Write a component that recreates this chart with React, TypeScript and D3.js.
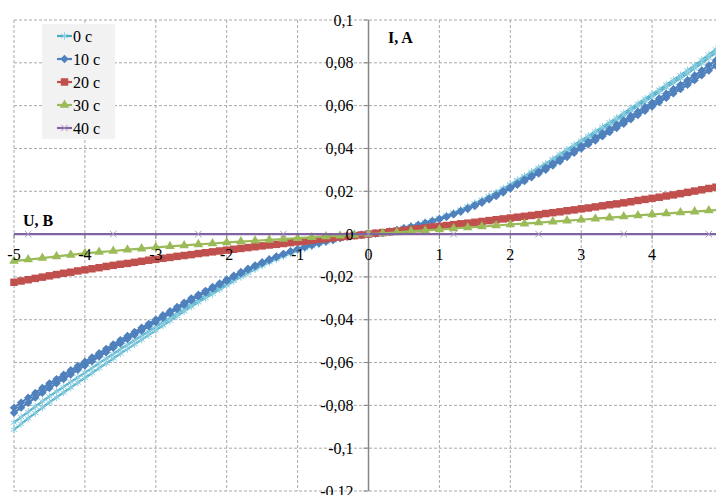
import React from "react";
import * as d3 from "d3";

const W = 716, H = 495;

// sweep voltages, V (step 0.1)
const uFine = [
  -5, -4.9, -4.8, -4.7, -4.6, -4.5, -4.4, -4.3, -4.2, -4.1,
  -4, -3.9, -3.8, -3.7, -3.6, -3.5, -3.4, -3.3, -3.2, -3.1,
  -3, -2.9, -2.8, -2.7, -2.6, -2.5, -2.4, -2.3, -2.2, -2.1,
  -2, -1.9, -1.8, -1.7, -1.6, -1.5, -1.4, -1.3, -1.2, -1.1,
  -1, -0.9, -0.8, -0.7, -0.6, -0.5, -0.4, -0.3, -0.2, -0.1,
  0, 0.1, 0.2, 0.3, 0.4, 0.5, 0.6, 0.7, 0.8, 0.9,
  1, 1.1, 1.2, 1.3, 1.4, 1.5, 1.6, 1.7, 1.8, 1.9,
  2, 2.1, 2.2, 2.3, 2.4, 2.5, 2.6, 2.7, 2.8, 2.9,
  3, 3.1, 3.2, 3.3, 3.4, 3.5, 3.6, 3.7, 3.8, 3.9,
  4, 4.1, 4.2, 4.3, 4.4, 4.5, 4.6, 4.7, 4.8, 4.9, 5,
];

// step 0.2 for the 30 c curve
const uCoarse = [
  -5, -4.8, -4.6, -4.4, -4.2, -4, -3.8, -3.6, -3.4, -3.2,
  -3, -2.8, -2.6, -2.4, -2.2, -2, -1.8, -1.6, -1.4, -1.2,
  -1, -0.8, -0.6, -0.4, -0.2,
  0, 0.2, 0.4, 0.6, 0.8, 1, 1.2, 1.4, 1.6, 1.8,
  2, 2.2, 2.4, 2.6, 2.8, 3, 3.2, 3.4, 3.6, 3.8,
  4, 4.2, 4.4, 4.6, 4.8, 5,
];

// 40 c points (ends have no marker)
const u40 = [-5, -4.8, -3.6, -2.4, -1.2, 0, 1.2, 2.4, 3.6, 4.8, 5];

// currents in mA
const i0Up = [
  -88.1, -85.5, -83.0, -80.6, -78.1, -75.8, -73.5, -71.4, -69.1, -66.9,
  -64.7, -62.6, -60.3, -58.2, -56.0, -53.8, -51.7, -49.6, -47.5, -45.5,
  -43.3, -41.2, -39.1, -36.9, -34.8, -32.6, -30.7, -28.8, -26.9, -24.9,
  -23.0, -21.1, -19.3, -17.5, -15.8, -14.2, -12.7, -11.3, -10.0, -8.7,
  -7.5, -6.4, -5.5, -4.5, -3.6, -2.9, -1.9, -1.2, -0.6, -0.3,
  0, 0.3, 0.6, 1.2, 1.9, 2.9, 3.7, 4.5, 5.5, 6.5,
  7.6, 8.7, 10.0, 11.4, 12.9, 14.4, 16.0, 17.7, 19.4, 21.3,
  23.2, 25.2, 27.1, 29.1, 31.0, 32.9, 35.1, 37.3, 39.4, 41.6,
  43.7, 45.9, 48.0, 50.1, 52.2, 54.3, 56.5, 58.8, 60.9, 63.2,
  65.3, 67.5, 69.8, 72.0, 74.2, 76.5, 78.8, 81.3, 83.8, 86.3, 88.9,
];
const i0Down = [
  -91.4, -88.7, -86.1, -83.6, -81.0, -78.6, -76.3, -74.0, -71.7, -69.4,
  -67.2, -64.9, -62.6, -60.4, -58.1, -55.8, -53.6, -51.5, -49.3, -47.2,
  -45.0, -42.7, -40.5, -38.3, -36.1, -33.9, -31.9, -29.9, -27.9, -25.9,
  -23.9, -21.9, -20.0, -18.2, -16.4, -14.8, -13.2, -11.8, -10.3, -9.0,
  -7.8, -6.7, -5.7, -4.7, -3.8, -3.0, -2.0, -1.2, -0.7, -0.3,
  0, 0.3, 0.6, 1.2, 1.9, 2.9, 3.6, 4.5, 5.4, 6.4,
  7.4, 8.6, 9.9, 11.2, 12.6, 14.1, 15.7, 17.4, 19.1, 20.9,
  22.8, 24.7, 26.6, 28.5, 30.4, 32.3, 34.5, 36.6, 38.7, 40.8,
  42.9, 45.1, 47.1, 49.2, 51.2, 53.3, 55.4, 57.7, 59.8, 62.0,
  64.1, 66.3, 68.5, 70.7, 72.8, 75.0, 77.4, 79.8, 82.3, 84.7, 87.2,
];
const i10Up = [
  -81.1, -78.7, -76.4, -74.2, -71.9, -69.7, -67.7, -65.7, -63.6, -61.6,
  -59.6, -57.6, -55.6, -53.6, -51.5, -49.5, -47.6, -45.7, -43.7, -41.9,
  -39.9, -37.9, -36.0, -34.0, -32.0, -30.0, -28.3, -26.5, -24.7, -23.0,
  -21.2, -19.4, -17.7, -16.2, -14.6, -13.1, -11.7, -10.4, -9.2, -8.0,
  -6.9, -5.9, -5.0, -4.1, -3.3, -2.7, -1.8, -1.1, -0.6, -0.3,
  0, 0.3, 0.6, 1.1, 1.8, 2.7, 3.5, 4.3, 5.2, 6.1,
  7.1, 8.2, 9.4, 10.8, 12.1, 13.5, 15.0, 16.6, 18.3, 20.0,
  21.8, 23.6, 25.5, 27.3, 29.1, 31.0, 33.0, 35.0, 37.0, 39.1,
  41.1, 43.1, 45.1, 47.1, 49.0, 51.1, 53.1, 55.2, 57.2, 59.4,
  61.4, 63.4, 65.6, 67.7, 69.7, 71.9, 74.1, 76.4, 78.8, 81.1, 83.5,
];
const i10Down = [
  -83.5, -81.1, -78.8, -76.4, -74.1, -71.9, -69.7, -67.7, -65.6, -63.4,
  -61.4, -59.4, -57.2, -55.2, -53.1, -51.1, -49.0, -47.1, -45.1, -43.1,
  -41.1, -39.1, -37.0, -35.0, -33.0, -31.0, -29.1, -27.3, -25.5, -23.6,
  -21.8, -20.0, -18.3, -16.6, -15.0, -13.5, -12.1, -10.8, -9.4, -8.2,
  -7.1, -6.1, -5.2, -4.3, -3.5, -2.7, -1.8, -1.1, -0.6, -0.3,
  0, 0.3, 0.6, 1.1, 1.8, 2.7, 3.3, 4.1, 5.0, 5.9,
  6.9, 8.0, 9.2, 10.4, 11.7, 13.1, 14.6, 16.2, 17.7, 19.4,
  21.2, 23.0, 24.7, 26.5, 28.3, 30.0, 32.0, 34.0, 36.0, 37.9,
  39.9, 41.9, 43.7, 45.7, 47.6, 49.5, 51.5, 53.6, 55.6, 57.6,
  59.6, 61.6, 63.6, 65.7, 67.7, 69.7, 71.9, 74.2, 76.4, 78.7, 81.1,
];
const i20 = [
  -22.5, -21.9, -21.3, -20.7, -20.1, -19.5, -18.9, -18.3, -17.8, -17.2,
  -16.7, -16.2, -15.7, -15.1, -14.6, -14.1, -13.7, -13.2, -12.7, -12.2,
  -11.8, -11.3, -10.9, -10.4, -10.0, -9.6, -9.1, -8.7, -8.3, -7.9,
  -7.5, -7.1, -6.7, -6.3, -5.9, -5.5, -5.1, -4.8, -4.4, -4.0,
  -3.6, -3.3, -2.9, -2.5, -2.2, -1.8, -1.4, -1.1, -0.7, -0.4,
  0, 0.4, 0.7, 1.1, 1.4, 1.8, 2.2, 2.5, 2.9, 3.3,
  3.6, 4.0, 4.4, 4.8, 5.1, 5.5, 5.9, 6.3, 6.7, 7.1,
  7.5, 7.9, 8.3, 8.7, 9.1, 9.6, 10.0, 10.4, 10.9, 11.3,
  11.8, 12.2, 12.7, 13.2, 13.7, 14.1, 14.6, 15.1, 15.7, 16.2,
  16.7, 17.2, 17.8, 18.3, 18.9, 19.5, 20.1, 20.7, 21.3, 21.9, 22.5,
];
const i30 = [
  -12.6, -11.9, -11.2, -10.4, -9.7, -9.0, -8.4, -7.9, -7.3, -6.8,
  -6.2, -5.7, -5.3, -4.8, -4.4, -3.9, -3.5, -3.1, -2.7, -2.3,
  -1.9, -1.5, -1.1, -0.8, -0.4,
  0, 0.4, 0.8, 1.3, 1.7, 2.1, 2.6, 3.1, 3.5, 4.0,
  4.5, 4.9, 5.4, 5.8, 6.3, 6.7, 7.2, 7.7, 8.2, 8.7,
  9.2, 9.6, 10.1, 10.5, 11.0, 11.4,
];
const i40 = [0, 0, 0, 0, 0, 0, 0, 0, 0, 0, 0];

const xTicks = [-5, -4, -3, -2, -1, 0, 1, 2, 3, 4, 5];
const xLabels = [-5, -4, -3, -2, -1, 0, 1, 2, 3, 4];
const yTicks = [-0.12, -0.1, -0.08, -0.06, -0.04, -0.02, 0, 0.02, 0.04, 0.06, 0.08, 0.1];
const legendNames = ["0 c", "10 c", "20 c", "30 c", "40 c"];

const FONT = "'Liberation Serif', 'Times New Roman', serif";

// sweep up then back down as one Excel-like series
const loop = (u: number[], up: number[], down: number[]) =>
  u.map((v, k) => [v, down[k]]).concat(u.map((v, k) => [v, up[k]]).reverse());

const series = [
  { name: legendNames[0], color: "#4BACC6", marker: "star", pts: loop(uFine, i0Up, i0Down) },
  { name: legendNames[1], color: "#4F81BD", marker: "diamond", pts: loop(uFine, i10Up, i10Down) },
  { name: legendNames[2], color: "#C0504D", marker: "square", pts: uFine.map((v, k) => [v, i20[k]]) },
  { name: legendNames[3], color: "#9BBB59", marker: "triangle", pts: uCoarse.map((v, k) => [v, i30[k]]) },
  { name: legendNames[4], color: "#8064A2", marker: "cross", pts: u40.map((v, k) => [v, i40[k]]) },
];

const symbols: Record<string, string> = {
  star: d3.symbol(d3.symbolAsterisk, 40)() as string,
  diamond: d3.symbol(d3.symbolDiamond2, 44)() as string,
  square: d3.symbol(d3.symbolSquare, 56)() as string,
  triangle: d3.symbol(d3.symbolTriangle, 40)() as string,
  cross: d3.symbol(d3.symbolTimes, 30)() as string,
};

function Marker({ type, color, x, y }: { type: string; color: string; x: number; y: number }) {
  const stroked = type === "star" || type === "cross";
  return (
    <path
      d={symbols[type]}
      transform={`translate(${x},${y})`}
      fill={stroked ? "none" : color}
      stroke={stroked ? (type === "star" ? "#8fd0e3" : "#a995c4") : "none"}
      strokeWidth={1}
    />
  );
}

const fmt = (v: number) => String(+v.toFixed(2)).replace(".", ",");

export default function App() {
  const x = d3.scaleLinear().domain([-5, 5]).range([14, 723]);
  const y = d3.scaleLinear().domain([-0.12, 0.1]).range([491, 20]);
  const line = d3.line<number[]>().x(d => x(d[0])).y(d => y(d[1] / 1000));

  return (
    <svg width={W} height={H} style={{ position: "absolute", left: 0, top: 0, background: "#fff" }} fontFamily={FONT}>
      {/* grid */}
      <g stroke="#a8a8a8" strokeWidth={1} strokeDasharray="3,2">
        {xTicks.map(t => (
          <line key={"gx" + t} x1={x(t)} x2={x(t)} y1={y(0.1)} y2={y(-0.12)} />
        ))}
        {yTicks.map(t => (
          <line key={"gy" + t} x1={x(-5)} x2={x(5)} y1={y(t)} y2={y(t)} />
        ))}
      </g>

      {/* axes */}
      <line x1={x(0)} x2={x(0)} y1={y(0.1)} y2={y(-0.12)} stroke="#868686" strokeWidth={1.5} />
      <line x1={x(-5)} x2={x(5)} y1={y(0)} y2={y(0)} stroke="#868686" strokeWidth={1.5} />
      {yTicks.map(t => (
        <line key={"ty" + t} x1={x(0) - 5} x2={x(0)} y1={y(t)} y2={y(t)} stroke="#868686" />
      ))}
      {xTicks.map(t => (
        <line key={"tx" + t} x1={x(t)} x2={x(t)} y1={y(0)} y2={y(0) + 5} stroke="#868686" />
      ))}

      {/* series */}
      {series.map(s => (
        <g key={s.name}>
          <path d={line(s.pts) as string} fill="none" stroke={s.color} strokeWidth={2.2} />
          {s.pts.map((p, k) =>
            s.marker === "cross" && Math.abs(p[0]) === 5 ? null : (
              <Marker key={k} type={s.marker} color={s.color} x={x(p[0])} y={y(p[1] / 1000)} />
            )
          )}
        </g>
      ))}

      {/* tick labels */}
      <g fontSize={16} fill="#000">
        {yTicks.map(t => (
          <text key={"ly" + t} x={x(0) - 15} y={y(t)} textAnchor="end" dominantBaseline="central">
            {fmt(t)}
          </text>
        ))}
        {xLabels.map(t => (
          <text key={"lx" + t} x={x(t)} y={y(0) + 20} textAnchor="middle" dominantBaseline="central">
            {fmt(t)}
          </text>
        ))}
      </g>

      {/* axis titles */}
      <text x={388} y={37} fontSize={16} fontWeight="bold" dominantBaseline="central">I, A</text>
      <text x={23} y={220} fontSize={16} fontWeight="bold" dominantBaseline="central">U, B</text>

      {/* legend */}
      <rect x={42} y={24} width={73} height={115} fill="#f2f2f2" />
      {series.map((s, k) => {
        const ly = 36 + k * 23;
        return (
          <g key={"lg" + s.name}>
            <line x1={57} x2={72} y1={ly} y2={ly} stroke={s.color} strokeWidth={2.2} />
            <Marker type={s.marker} color={s.color} x={64.5} y={ly} />
            <text x={73} y={ly} fontSize={16} dominantBaseline="central">{s.name}</text>
          </g>
        );
      })}
    </svg>
  );
}
